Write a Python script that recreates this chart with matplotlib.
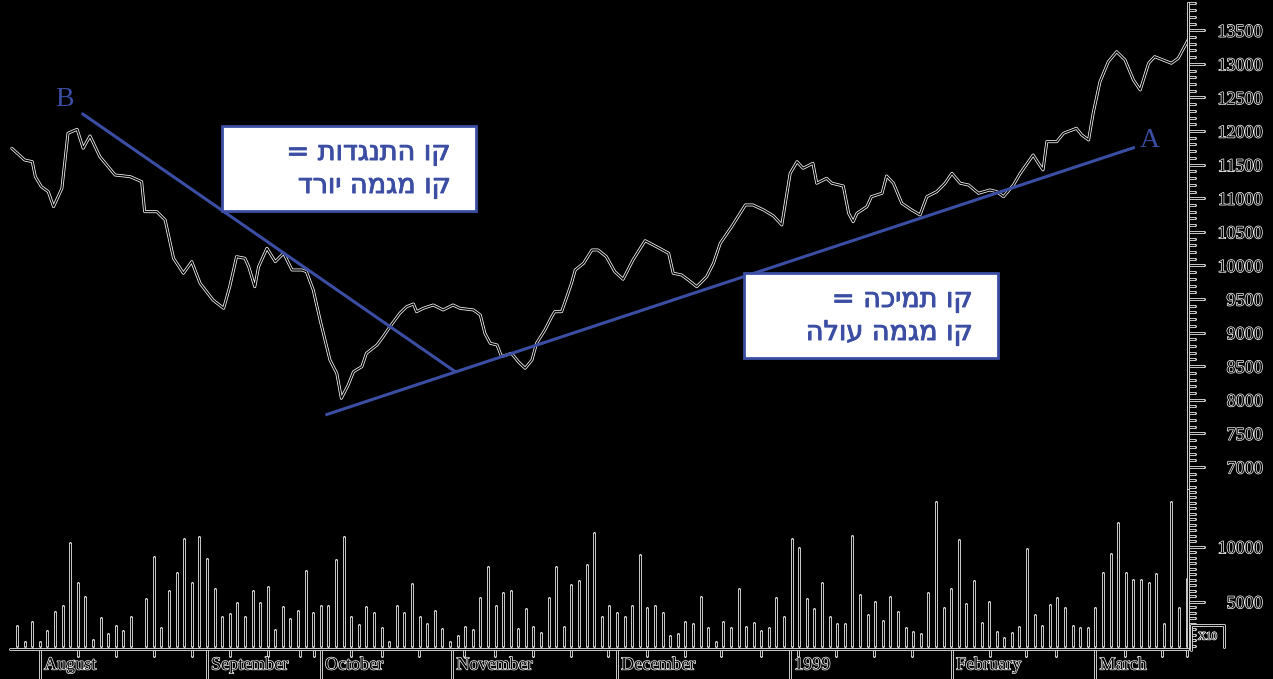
import matplotlib
matplotlib.use("Agg")
import matplotlib.pyplot as plt
import matplotlib.patheffects as pe
from matplotlib.lines import Line2D
from matplotlib.patches import Rectangle
from matplotlib.ticker import FixedLocator, MultipleLocator

# ---------------- data ----------------
price_day = [-0.7, 1.0, 2.0, 2.4, 3.2, 4.1, 4.8, 5.9, 6.7, 7.9, 8.7, 9.6, 10.9, 12.9, 14.9,
             16.4, 16.8, 18.4, 19.5, 20.6, 21.9, 23.0, 24.1, 25.8, 27.2, 28.0, 28.9, 30.0,
             30.5, 31.3, 31.8, 32.9, 34.0, 35.1, 36.2, 37.5, 38.1, 39.0, 39.9, 41.2, 42.1,
             42.7, 43.6, 44.3, 45.4, 46.0, 47.4, 48.2, 49.1, 50.4, 51.3, 52.2, 52.6, 53.5,
             54.8, 56.1, 57.4, 58.3, 60.1, 61.0, 61.6, 62.3, 63.2, 63.8, 65.1, 66.0, 66.9,
             67.8, 68.4, 69.5, 70.4, 70.8, 71.7, 72.4, 73.0, 73.5, 74.6, 75.7, 76.5, 77.6,
             78.7, 79.8, 81.1, 82.7, 84.2, 85.8, 86.4, 87.5, 88.4, 89.5, 90.8, 91.7, 92.6,
             94.1, 95.9, 96.9, 98.3, 99.6, 100.7, 101.3, 101.8, 102.7, 103.5, 104.8, 105.3,
             106.6, 107.3, 108.8, 109.5, 110.1, 110.6, 111.9, 112.5, 113.9, 114.5, 115.4,
             116.5, 117.8, 118.9, 119.8, 121.1, 122.2, 123.1, 124.2, 125.3, 126.6, 128.1,
             129.0, 129.9, 131.2, 132.1, 133.8, 134.5, 135.1, 135.6, 136.9, 137.8, 139.5,
             140.2, 141.1, 141.7, 142.6, 143.7, 144.8, 145.9, 147.0, 147.9, 149.0, 149.8,
             150.9, 152.0, 152.9, 154.2]
price_val = [11744, 11569, 11544, 11321, 11172, 11098, 10874, 11148, 11967, 12026, 11744,
             11927, 11619, 11346, 11321, 11246, 10800, 10800, 10676, 10106, 9883, 10056,
             9734, 9485, 9362, 9683, 10130, 10106, 9981, 9683, 9981, 10255, 10056, 10181,
             9932, 9932, 9907, 9634, 9188, 8592, 8394, 8022, 8220, 8418, 8493, 8692, 8816,
             8939, 9088, 9288, 9386, 9426, 9311, 9362, 9411, 9337, 9411, 9362, 9337, 9262,
             8990, 8841, 8816, 8642, 8692, 8567, 8469, 8592, 8841, 9039, 9237, 9311, 9311,
             9535, 9734, 9932, 10032, 10230, 10230, 10130, 9907, 9794, 10081, 10368, 10279,
             10181, 9883, 9858, 9783, 9683, 9832, 10032, 10330, 10577, 10900, 10900, 10825,
             10736, 10602, 11023, 11371, 11544, 11446, 11520, 11223, 11297, 11223, 11182,
             10776, 10651, 10776, 10874, 11023, 11074, 11331, 11223, 10925, 10825, 10751,
             11023, 11098, 11223, 11371, 11223, 11197, 11074, 11123, 11098, 11023, 11197,
             11371, 11644, 11520, 11421, 11842, 11842, 11967, 12041, 11942, 11867, 12265,
             12735, 13033, 13181, 13058, 12760, 12611, 13009, 13107, 13058, 13009, 13083,
             13356]

vol_day = list(range(0, 16)) + list(range(17, 155))
vol_val = [2820, 1360, 3180, 1360, 2360, 4040, 4640, 10310, 6730, 5450, 1520, 3490, 2040,
           2820, 2360, 3640, 5220, 9090, 2580, 5970, 7580, 10700, 6670, 10910, 8850, 6150,
           3580, 3850, 4910, 3580, 5970, 4850, 6310, 2400, 4550, 3400, 4130, 7820, 4000,
           4640, 4580, 8760, 10910, 3580, 2850, 4550, 4000, 2640, 1360, 4580, 4000, 6580,
           3580, 2970, 4130, 2490, 1360, 1910, 2670, 2430, 5360, 8180, 4580, 5760, 6000,
           2490, 4360, 2670, 2130, 5360, 8180, 2670, 6490, 6880, 8340, 11270, 3580, 4640,
           4000, 3580, 4580, 9250, 4430, 4640, 4000, 1910, 2060, 3130, 2970, 5400, 2580,
           1360, 3130, 2580, 6130, 2730, 3040, 2340, 2580, 5360, 3580, 10670, 9910, 5220,
           4310, 6670, 3580, 2970, 2950, 11000, 5610, 3760, 4950, 3250, 5400, 4040, 2580,
           2270, 2040, 5760, 14040, 4400, 6130, 10610, 4760, 6910, 3040, 4950, 2270, 1670,
           2130, 2730, 9760, 3760, 2760, 4670, 5310, 4400, 2790, 2610, 2610, 4400, 7580,
           9310, 12130, 7580, 6950, 6950, 6670, 7490, 2950, 14040, 4400, 7040]

resist_day = [8.5, 57.7]
resist_val = [12265, 8418]
support_day = [40.6, 147.2]
support_val = [7774, 11758]

month_day = [3, 25, 40, 57.3, 79, 101.8, 123.1, 142]
month_label = ["August", "September", "October", "November", "December", "1999",
               "February", "March"]
week_day = [8, 13, 18, 23, 28, 33, 37.3, 39.1, 44, 48, 52.9, 58.9, 62.9, 67.9, 72.9, 77.8,
            82.9, 87.9, 92.7, 97.9, 102.8, 107.8, 112.9, 117.8, 128.1, 132.9, 136.8, 145.9,
            150.8, 154]

price_ticks = [7000, 7500, 8000, 8500, 9000, 9500, 10000, 10500, 11000, 11500, 12000,
               12500, 13000, 13500]
vol_ticks = [5000, 10000]

box1_lines = ["קו התנגדות =", "קו מגמה יורד"]
box2_lines = ["קו תמיכה =", "קו מגמה עולה"]

# ---------------- styling ----------------
W, H = 1273, 679
BLUE = "#3b4ea3"
SERIF = ["Liberation Serif", "DejaVu Serif"]


def fx(px):
    return px / W


def fy(py):
    return 1 - py / H


line_fx = [pe.Stroke(linewidth=2.1, foreground="white", capstyle="round"), pe.Normal()]
text_fx = [pe.withStroke(linewidth=1.0, foreground="white")]
heb_fx = [pe.withStroke(linewidth=0.7, foreground=BLUE)]

fig = plt.figure(figsize=(W / 100, H / 100), dpi=100, facecolor="black")

XL = (-2.252, 154.19)
ax_p = fig.add_axes([0, fy(490), fx(1188), 487 / H])
ax_v = fig.add_axes([0, fy(649), fx(1188), 159 / H], sharex=ax_p)

for ax in (ax_p, ax_v):
    ax.set_facecolor("none")
    for s in ("left", "top", "bottom"):
        ax.spines[s].set_visible(False)
    ax.spines["right"].set_color("black")
    ax.spines["right"].set_linewidth(1.0)
    ax.spines["right"].set_path_effects(line_fx)
    ax.yaxis.tick_right()

ax_p.set_xlim(*XL)
ax_p.set_ylim(6657, 13906)
ax_v.set_ylim(700, 15155)

# price line
ax_p.plot(price_day, price_val, color="black", lw=1.0, path_effects=line_fx,
          solid_joinstyle="round")
# trend lines
ax_p.plot(resist_day, resist_val, color=BLUE, lw=2.2, solid_capstyle="butt")
ax_p.plot(support_day, support_val, color=BLUE, lw=2.2, solid_capstyle="butt")
ax_p.text(resist_day[0] - 2.2, resist_val[0] + 200, "B", color=BLUE, fontsize=20,
          family=SERIF, ha="center", va="center")
ax_p.text(support_day[1] + 1.9, support_val[1] + 95, "A", color=BLUE, fontsize=20,
          family=SERIF, ha="center", va="center")

# volume bars
ax_v.vlines(vol_day, 970, vol_val, colors="black", lw=1.0, path_effects=line_fx)

# y axes ticks
ax_p.yaxis.set_major_locator(FixedLocator(price_ticks))
ax_p.yaxis.set_minor_locator(MultipleLocator(100))
ax_v.yaxis.set_major_locator(FixedLocator(vol_ticks))
ax_v.yaxis.set_minor_locator(MultipleLocator(500))
for ax in (ax_p, ax_v):
    ax.tick_params(axis="y", which="major", length=11.5, width=1.0, color="black",
                   direction="out", pad=42, labelsize=13, labelcolor="black",
                   right=True, left=False, labelright=True, labelleft=False)
    ax.tick_params(axis="y", which="minor", length=5, width=1.0, color="black",
                   direction="out", right=True, left=False)

ax_p.tick_params(axis="x", which="both", bottom=False, labelbottom=False)

# bottom axis
ax_v.spines["bottom"].set_visible(True)
ax_v.spines["bottom"].set_color("black")
ax_v.spines["bottom"].set_linewidth(1.0)
ax_v.spines["bottom"].set_path_effects(line_fx)
ax_v.spines["bottom"].set_bounds(-0.94, XL[1])
ax_v.xaxis.set_major_locator(FixedLocator(month_day))
ax_v.xaxis.set_minor_locator(FixedLocator(week_day))
ax_v.tick_params(axis="x", which="major", length=22, width=1.0, color="black",
                 direction="out", labelbottom=False)
ax_v.tick_params(axis="x", which="minor", length=5, width=1.0, color="black",
                 direction="out")
ax_v.set_xlim(*XL)

for d, lab in zip(month_day, month_label):
    ax_v.annotate(lab, xy=(d, 0), xycoords=("data", "axes fraction"),
                  xytext=(3, -11.5), textcoords="offset points", ha="left", va="center",
                  fontsize=13, family=SERIF, color="black", path_effects=text_fx)

# style ticks and labels (outlined look)
for ax in (ax_p, ax_v):
    for axis in (ax.xaxis, ax.yaxis):
        ticks = axis.get_major_ticks() + axis.get_minor_ticks()
        for t in ticks:
            for ln in (t.tick1line, t.tick2line):
                ln.set_path_effects(line_fx)
        for t in axis.get_major_ticks():
            t.label2.set_family(SERIF)
            t.label2.set_horizontalalignment("right")
            t.label2.set_path_effects(text_fx)

# x10 box
fig.add_artist(Line2D([fx(x) for x in (1191, 1191, 1224, 1224)],
                      [fy(y) for y in (650, 625, 625, 647)], color="black", lw=1.0,
                      transform=fig.transFigure, path_effects=line_fx))
fig.text(fx(1207.5), fy(637), "X10", fontsize=8, family=SERIF, color="black",
         ha="center", va="center", path_effects=text_fx)

# annotation boxes
for (x0, y0, x1, y1), lines, ys in (((221.7, 125.7, 476, 210.5), box1_lines, (153, 186)),
                                      ((744, 273.3, 998, 358), box2_lines, (300, 333))):
    fig.add_artist(Rectangle((fx(x0), fy(y1)), fx(x1) - fx(x0), fy(y0) - fy(y1),
                             transform=fig.transFigure, facecolor="white",
                             edgecolor=BLUE, lw=2.0, zorder=5))
    for ln, yy in zip(lines, ys):
        fig.text(fx(x1 - 25), fy(yy), ln[::-1], fontsize=19.5, color=BLUE,
                 family=["DejaVu Sans"], ha="right", va="center", zorder=6,
                 path_effects=heb_fx)

fig.savefig("out.png", dpi=100, facecolor="black")
